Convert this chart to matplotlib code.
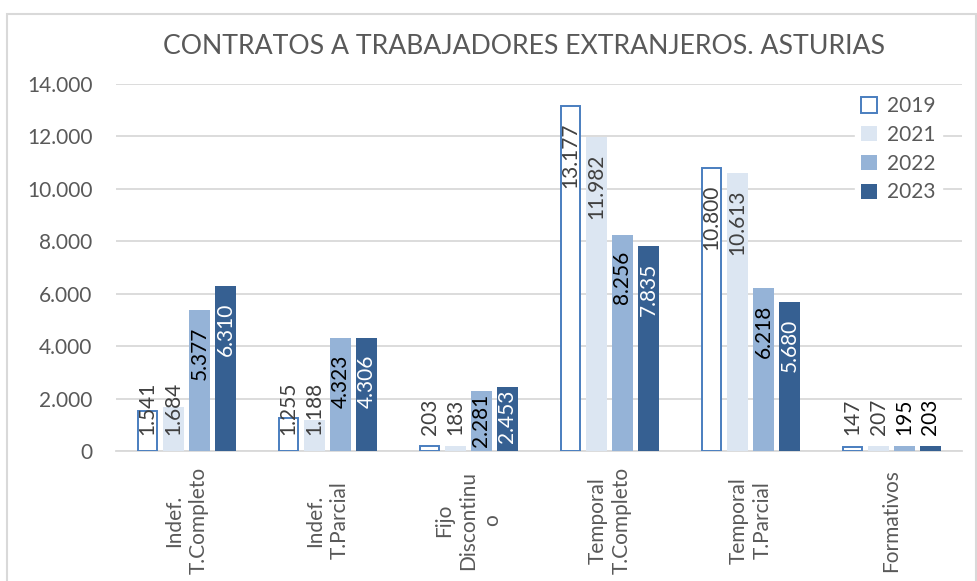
import matplotlib
matplotlib.use("Agg")
import matplotlib.pyplot as plt
import numpy as np
from matplotlib.patches import Rectangle

categories = ["Indef.\nT.Completo", "Indef.\nT.Parcial", "Fijo\nDiscontinu\no",
              "Temporal\nT.Completo", "Temporal\nT.Parcial", "Formativos"]
years = ["2019", "2021", "2022", "2023"]
v2019 = [1541, 1255, 203, 13177, 10800, 147]
v2021 = [1684, 1188, 183, 11982, 10613, 207]
v2022 = [5377, 4323, 2281, 8256, 6218, 195]
v2023 = [6310, 4306, 2453, 7835, 5680, 203]
series = [v2019, v2021, v2022, v2023]
yticks = [0, 2000, 4000, 6000, 8000, 10000, 12000, 14000]
title = "CONTRATOS A TRABAJADORES EXTRANJEROS. ASTURIAS"

face = ["white", "#DCE6F2", "#95B3D7", "#366092"]
edge = ["#4A7EBF", "#DCE6F2", "#95B3D7", "#366092"]
lblcol = ["#404040", "#404040", "#000000", "#FFFFFF"]
gray = "#595959"
FONT = "Lato"
FS = 15

plt.rcParams['font.family'] = [FONT, 'DejaVu Sans']

fig = plt.figure(figsize=(9.77, 5.81), dpi=100)
fig.patches.append(Rectangle((7/977, -0.1), 969/977, 1 - 14/581 + 0.1,
                             transform=fig.transFigure, fill=False,
                             edgecolor="#D9D9D9", lw=1.5))
ax = fig.add_axes([116/977, 1 - 451/581, (962-116)/977, (451-84)/581])

x = np.arange(len(categories))
pitch = 0.184
bw = 0.145
bars_all = []
for i, vals in enumerate(series):
    pos = x + (i - 1.5) * pitch
    if i == 0:
        b = ax.bar(pos, vals, width=bw - 0.01, color=face[i], edgecolor=edge[i],
                   linewidth=1.4, label=years[i], zorder=3)
    else:
        b = ax.bar(pos, vals, width=bw, color=face[i], edgecolor=edge[i],
                   linewidth=0, label=years[i], zorder=3)
    bars_all.append((pos, vals))

ax.set_xlim(-0.5, len(categories) - 0.5)
ax.set_ylim(0, 14000)
ax.set_yticks(yticks)
ax.set_yticklabels([f"{t:,}".replace(",", ".") for t in yticks])
ax.yaxis.grid(True, color="#D9D9D9", lw=1.3, zorder=0)
ax.set_axisbelow(True)
for s in ["top", "right", "left"]:
    ax.spines[s].set_visible(False)
ax.spines["bottom"].set_color("#D9D9D9")
ax.spines["bottom"].set_linewidth(1.3)
ax.tick_params(axis="y", length=0, pad=17, labelsize=FS, labelcolor=gray)
ax.set_xticks(x)
ax.set_xticklabels(categories, rotation=90, va="center", ha="center",
                   multialignment="center", linespacing=1.25)
ax.tick_params(axis="x", length=0, pad=50, labelsize=FS, labelcolor=gray)

fig.text(524/977, 1 - 47/581, title, ha="center", va="center",
         fontsize=19.2, color=gray)

leg = ax.legend(loc="upper left", bbox_to_anchor=(855/977, 1 - 90/581),
                bbox_transform=fig.transFigure, frameon=True, fontsize=FS,
                handlelength=0.75, handleheight=0.75, handletextpad=0.5,
                labelspacing=0.42, borderpad=0.3, borderaxespad=0)
leg.get_frame().set_edgecolor("white")
leg.get_frame().set_facecolor("white")
leg.get_frame().set_alpha(1)
for t in leg.get_texts():
    t.set_color(gray)

# data labels
fig.canvas.draw()
r = fig.canvas.get_renderer()
axis_y0 = ax.transData.transform((0, 0))[1]
for i, (pos, vals) in enumerate(bars_all):
    for xp, v in zip(pos, vals):
        s = f"{v:,}".replace(",", ".")
        t = ax.annotate(s, xy=(xp, v), xytext=(0, -12), textcoords="offset points",
                        rotation=90, ha="center", va="top", fontsize=FS,
                        color=lblcol[i], zorder=5)
        bb = t.get_window_extent(r)
        if bb.y0 < axis_y0 + 8:
            t.set_position((0, -2))
            bb = t.get_window_extent(r)
            if bb.y0 < axis_y0 + 3:
                t.remove()
                c = "#000000" if i >= 2 else lblcol[i]
                ax.annotate(s, xy=(xp, 0), xytext=(0, 11.5), textcoords="offset points",
                            rotation=90, ha="center", va="bottom", fontsize=FS,
                            color=c, zorder=5)

fig.savefig("out.png", dpi=100)
